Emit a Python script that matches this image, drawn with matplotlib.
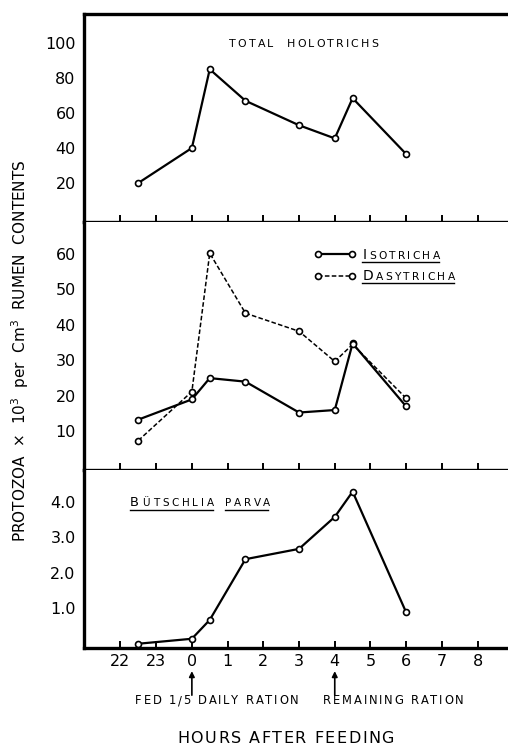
import matplotlib
matplotlib.use('Agg')
import matplotlib.pyplot as plt
from matplotlib.transforms import IdentityTransform
from matplotlib.lines import Line2D
from matplotlib.font_manager import FontProperties, findfont
from matplotlib.ft2font import FT2Font

# ---------------- data ----------------
hours = [-1.5, 0, 0.5, 1.5, 3, 4, 4.5, 6]
total_holotrichs = [20, 40, 85, 67, 53, 45.5, 68.5, 36.5]
isotricha = [13.3, 19, 25, 24, 15.3, 16, 34.8, 17]
dasytricha = [7.4, 21.2, 60.2, 43.3, 38.2, 29.7, 34.5, 19.3]
butschlia = [0.0, 0.14, 0.67, 2.38, 2.67, 3.57, 4.28, 0.88]

xtick_pos = [-2, -1, 0, 1, 2, 3, 4, 5, 6, 7, 8]
xtick_labels = ['22', '23', '0', '1', '2', '3', '4', '5', '6', '7', '8']
top_yticks = [20, 40, 60, 80, 100]
mid_yticks = [10, 20, 30, 40, 50, 60]
bot_yticks = [1.0, 2.0, 3.0, 4.0]
bot_ytick_labels = ['1.0', '2.0', '3.0', '4.0']

W, H = 508, 745
DPI = 100
plt.rcParams['font.family'] = ['DejaVu Sans']
fig = plt.figure(figsize=(W / DPI, H / DPI), dpi=DPI)


def px_axes(x0, y0, x1, y1):
    return fig.add_axes([x0 / W, 1 - y1 / H, (x1 - x0) / W, (y1 - y0) / H])


ax1 = px_axes(84, 14, 508, 222)
ax2 = px_axes(84, 222, 508, 470)
ax3 = px_axes(84, 470, 508, 648)

SPW = 2.4
for ax in (ax1, ax2, ax3):
    ax.set_xlim(-3.02, 8.85)
    ax.spines['right'].set_visible(False)
    ax.spines['left'].set_linewidth(SPW)
    ax.spines['bottom'].set_linewidth(SPW)
    ax.spines['top'].set_linewidth(SPW)
    ax.set_xticks(xtick_pos)
    ax.tick_params(axis='x', direction='in', length=5, width=1.4, labelbottom=False)
    ax.tick_params(axis='y', length=0, pad=6, labelsize=11.5)
ax2.spines['top'].set_visible(False)
ax3.spines['top'].set_visible(False)

ax3.set_xticklabels(xtick_labels)
ax3.tick_params(axis='x', labelbottom=True, labelsize=11.5, pad=4)

mk = dict(marker='o', markersize=4.3, markerfacecolor='white',
          markeredgecolor='black', markeredgewidth=1.2, color='black')

ax1.plot(hours, total_holotrichs, lw=1.6, **mk)
ax1.set_ylim(-2.3, 116.6)
ax1.set_yticks(top_yticks)

l_iso, = ax2.plot(hours, isotricha, lw=1.6, **mk)
l_das, = ax2.plot(hours, dasytricha, lw=1.1, linestyle=(0, (3, 1.5)), **mk)
ax2.set_ylim(-0.9, 69)
ax2.set_yticks(mid_yticks)

ax3.plot(hours, butschlia, lw=1.6, clip_on=False, zorder=3, **mk)
ax3.set_ylim(-0.12, 4.89)
ax3.set_yticks(bot_yticks)
ax3.set_yticklabels(bot_ytick_labels)

leg = ax2.legend([l_iso, l_das], [' ', ' '], loc='upper left',
                 bbox_to_anchor=(0.545, 0.888), frameon=False, numpoints=2,
                 handlelength=3.6, handletextpad=0.3, labelspacing=1.1,
                 fontsize=8, borderpad=0, borderaxespad=0)

ident = IdentityTransform()
_font = FT2Font(findfont(FontProperties(family='DejaVu Sans')), hinting_factor=1)


def advance(ch, size):
    _font.set_size(size, DPI)
    g = _font.load_char(ord(ch))
    return g.linearHoriAdvance / 65536.0


def tracked_fit(x0, x1, y, segments, **kw):
    """Draw text char by char between image-pixel x0 and x1 (baseline y from top)."""
    chars = [(ch, size) for s, size in segments for ch in s]
    nat = sum(advance(ch, size) for ch, size in chars)
    track = (x1 - x0 - nat) / max(len(chars) - 1, 1)
    cx = x0
    for ch, size in chars:
        if ch != ' ':
            fig.text(cx, H - y, ch, fontsize=size, transform=ident,
                     ha='left', va='baseline', **kw)
        cx += advance(ch, size) + track
    return x1


def uline(x0, x1, y, lw=1.0):
    fig.add_artist(Line2D([x0, x1], [H - y, H - y], transform=ident,
                          color='black', lw=lw))


# Titles / labels
tracked_fit(229, 378, 47, [('TOTAL  HOLOTRICHS', 7.9)])

tracked_fit(363, 440, 259, [('I', 10.0), ('SOTRICHA', 7.7)])
uline(362, 439, 262)
tracked_fit(363, 455, 280, [('D', 10.0), ('ASYTRICHA', 7.7)])
uline(362, 454, 283)

tracked_fit(130, 214, 506, [('B', 9.4), ('ÜTSCHLIA', 7.5)])
uline(130, 213, 510)
tracked_fit(225, 270, 506, [('PARVA', 7.5)])
uline(225, 268, 510)

tracked_fit(135, 299, 704, [('FED 1/5 DAILY RATION', 8.3)])
tracked_fit(323, 464, 704, [('REMAINING RATION', 8.3)])

# arrows to feeding times
xt = ax3.get_xaxis_transform()
for hx in (0, 4):
    ax3.annotate('', xy=(hx, -0.13), xytext=(hx, -0.265), xycoords=xt,
                 textcoords=xt,
                 arrowprops=dict(arrowstyle='-|>', color='black', lw=1.2,
                                 mutation_scale=8, shrinkA=0, shrinkB=0))

tracked_fit(177, 394, 743, [('HOURS AFTER FEEDING', 11.5)])
fig.text(20 / W, 1 - 351 / H,
         r'PROTOZOA  $\times$  10$^{3}$  per  Cm$^{3}$  RUMEN  CONTENTS',
         fontsize=11, rotation=90, ha='center', va='center')

fig.savefig('out.png', dpi=DPI)
